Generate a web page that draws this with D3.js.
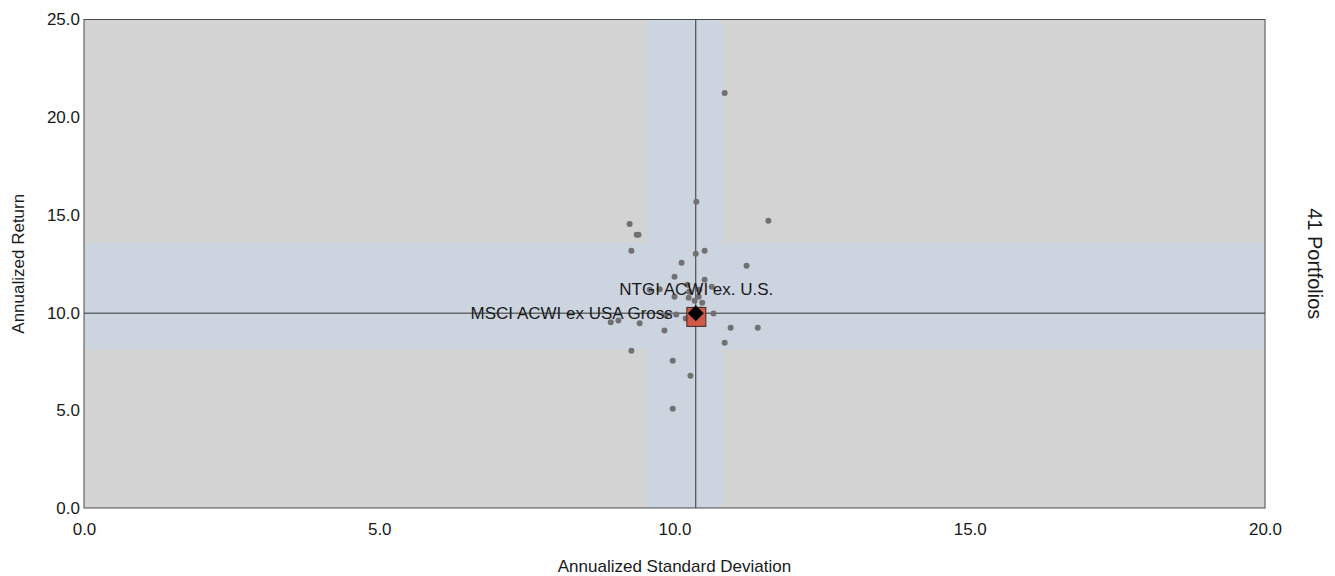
<!DOCTYPE html>
<html>
<head>
<meta charset="utf-8">
<script src="https://cdn.jsdelivr.net/npm/d3@7"></script>
<style>
  body { margin: 0; background: #fff; }
  text { font-family: "Liberation Sans", Arial, sans-serif; fill: #1a1a1a; }
</style>
</head>
<body>
<div class="chart"></div>
<script>
let FRAME_WIDTH = 1335;
let FRAME_HEIGHT = 576;
let MARGINS = {left: 84, right: 70, top: 19.5, bottom: 68};

// portfolio points (std dev, return)
let stdDev = [10.85, 10.37, 9.24, 9.36, 9.39, 11.59, 9.27, 10.36, 10.51, 10.12,
              11.22, 10.0, 10.51, 10.63, 10.0, 10.24, 10.34, 10.41, 10.03, 10.19,
              10.66, 8.92, 9.05, 9.41, 9.83, 10.95, 11.41, 10.85, 9.27, 9.97,
              10.27, 9.97, 10.22, 10.42, 10.31, 10.44, 9.75, 9.58, 10.25, 10.47, 9.85];
let returns = [21.24, 15.67, 14.54, 13.98, 13.98, 14.70, 13.16, 13.01, 13.16, 12.55,
               12.40, 11.84, 11.68, 11.32, 10.81, 10.76, 10.61, 10.81, 9.90, 9.70,
               9.95, 9.50, 9.60, 9.45, 9.08, 9.23, 9.23, 8.46, 8.05, 7.54,
               6.77, 5.08, 11.43, 11.17, 9.54, 10.16, 11.2, 11.17, 11.07, 10.5, 9.85];

// benchmark and fund
let benchmarkName = "MSCI ACWI ex USA Gross";
let benchmark = [10.36, 9.97];
let fundName = "NTGI ACWI ex. U.S.";
let fund = [10.37, 9.78];

// shaded bands (std dev range, return range)
let bandX = [9.54, 10.81];
let bandY = [8.1, 13.57];

let xTicks = [0, 5, 10, 15, 20];
let yTicks = [0, 5, 10, 15, 20, 25];

let W = FRAME_WIDTH - MARGINS.left - MARGINS.right;
let H = FRAME_HEIGHT - MARGINS.top - MARGINS.bottom;

let svg = d3.select(".chart").append("svg")
            .attr("width", FRAME_WIDTH)
            .attr("height", FRAME_HEIGHT);

const X_SCALE = d3.scaleLinear().domain([0, 20]).range([0, W]);
const Y_SCALE = d3.scaleLinear().domain([0, 25]).range([H, 0]);

let g = svg.append("g")
           .attr("transform", "translate(" + MARGINS.left + "," + MARGINS.top + ")");

// background
g.append("rect").attr("width", W).attr("height", H).attr("fill", "#d3d3d3");

// bands
g.append("rect")
  .attr("x", 0).attr("width", W)
  .attr("y", Y_SCALE(bandY[1])).attr("height", Y_SCALE(bandY[0]) - Y_SCALE(bandY[1]))
  .attr("fill", "#ccd4e0");
g.append("rect")
  .attr("x", X_SCALE(bandX[0])).attr("width", X_SCALE(bandX[1]) - X_SCALE(bandX[0]))
  .attr("y", 0).attr("height", H)
  .attr("fill", "#ccd4e0");

// crosshair through benchmark
g.append("line")
  .attr("x1", X_SCALE(benchmark[0])).attr("x2", X_SCALE(benchmark[0]))
  .attr("y1", 0).attr("y2", H)
  .attr("stroke", "#333").attr("stroke-width", 1);
g.append("line")
  .attr("x1", 0).attr("x2", W)
  .attr("y1", Y_SCALE(benchmark[1])).attr("y2", Y_SCALE(benchmark[1]))
  .attr("stroke", "#333").attr("stroke-width", 1);

// portfolios
g.selectAll("circle.pt")
  .data(stdDev.map((d, i) => [d, returns[i]]))
  .enter().append("circle")
    .attr("class", "pt")
    .attr("cx", d => X_SCALE(d[0]))
    .attr("cy", d => Y_SCALE(d[1]))
    .attr("r", 3)
    .attr("fill", "#717171");

// labels
g.append("text")
  .attr("x", X_SCALE(fund[0]) - 77).attr("y", Y_SCALE(fund[1]) - 22)
  .attr("font-size", 17)
  .text(fundName);
g.append("text")
  .attr("x", X_SCALE(benchmark[0]) - 23).attr("y", Y_SCALE(benchmark[1]))
  .attr("dy", "0.35em")
  .attr("text-anchor", "end")
  .attr("font-size", 17)
  .text(benchmarkName);

// fund square
g.append("rect")
  .attr("x", X_SCALE(fund[0]) - 9.5).attr("y", Y_SCALE(fund[1]) - 9.5)
  .attr("width", 19).attr("height", 19)
  .attr("fill", "#cf5a48").attr("stroke", "#3b2a22").attr("stroke-width", 1);

// benchmark diamond
g.append("path")
  .attr("transform", "translate(" + X_SCALE(benchmark[0]) + "," + Y_SCALE(benchmark[1]) + ")")
  .attr("d", "M0,-8L8,0L0,8L-8,0Z")
  .attr("fill", "#000");

// frame
g.append("rect").attr("width", W).attr("height", H)
  .attr("fill", "none").attr("stroke", "#4a4a4a").attr("stroke-width", 1);

// axes
let xAxis = g.append("g")
  .attr("transform", "translate(0," + H + ")")
  .call(d3.axisBottom(X_SCALE).tickValues(xTicks).tickFormat(d3.format(".1f")).tickSize(0).tickPadding(15));
xAxis.select(".domain").remove();
xAxis.selectAll("text").attr("font-size", 17).attr("fill", "#1a1a1a");

let yAxis = g.append("g")
  .call(d3.axisLeft(Y_SCALE).tickValues(yTicks).tickFormat(d3.format(".1f")).tickSize(0).tickPadding(4));
yAxis.select(".domain").remove();
yAxis.selectAll("text").attr("font-size", 17).attr("fill", "#1a1a1a");

// axis titles
svg.append("text")
  .attr("x", MARGINS.left + W / 2).attr("y", 572)
  .attr("text-anchor", "middle").attr("font-size", 17)
  .text("Annualized Standard Deviation");
svg.append("text")
  .attr("transform", "translate(24," + (MARGINS.top + H / 2) + ") rotate(-90)")
  .attr("text-anchor", "middle").attr("font-size", 17)
  .text("Annualized Return");
svg.append("text")
  .attr("transform", "translate(1308," + (MARGINS.top + H / 2) + ") rotate(90)")
  .attr("text-anchor", "middle").attr("font-size", 20)
  .text("41 Portfolios");
</script>
</body>
</html>
